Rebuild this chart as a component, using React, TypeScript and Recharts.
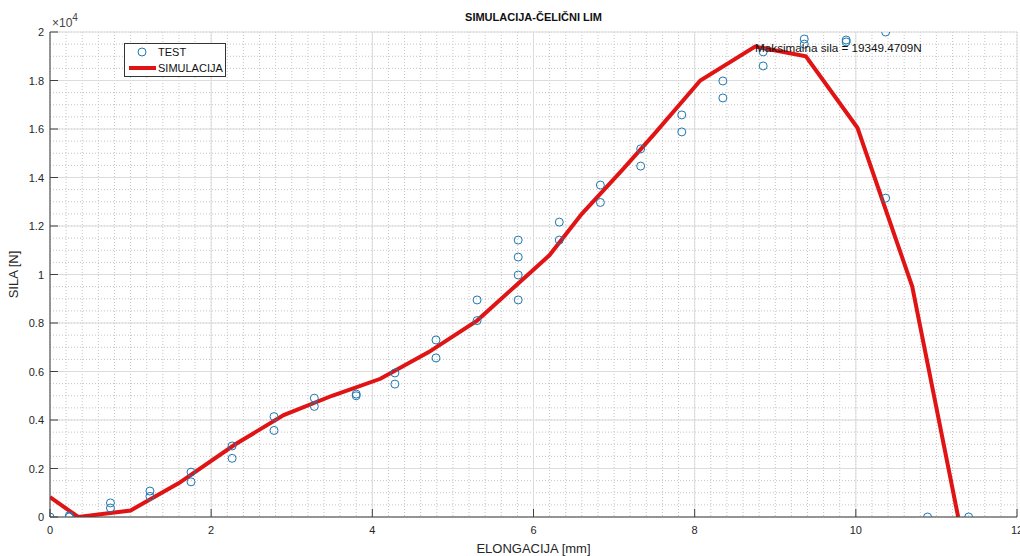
import React from 'react';
import { ComposedChart, Line, Scatter, XAxis, YAxis, CartesianGrid, Legend, ReferenceDot } from 'recharts';

const testX = [0, 0.24, 0.24, 0.75, 0.75, 1.24, 1.24, 1.75, 1.75, 2.26, 2.26, 2.78, 2.78, 3.28, 3.28, 3.8, 3.8, 4.28, 4.28, 4.79, 4.79, 5.3, 5.3, 5.81, 5.81, 5.81, 5.81, 6.32, 6.32, 6.83, 6.83, 7.33, 7.33, 7.84, 7.84, 8.35, 8.35, 8.85, 8.85, 9.36, 9.36, 9.88, 9.88, 10.37, 10.37, 10.89, 11.4];
const testY = [0, 0, 0.005, 0.058, 0.037, 0.107, 0.085, 0.185, 0.145, 0.293, 0.242, 0.414, 0.357, 0.49, 0.456, 0.507, 0.5, 0.594, 0.548, 0.73, 0.656, 0.895, 0.81, 1.142, 1.072, 0.998, 0.895, 1.216, 1.142, 1.369, 1.297, 1.518, 1.447, 1.658, 1.588, 1.798, 1.728, 1.918, 1.86, 1.971, 1.95, 1.967, 1.959, 2.0, 1.315, 0, 0];

const simX = [0, 0.35, 1.0, 1.6, 2.3, 2.9, 3.5, 4.1, 4.7, 5.3, 5.8, 6.2, 6.6, 7.1, 7.5, 8.07, 8.75, 9.38, 10.02, 10.7, 11.27];
const simY = [0.082, 0, 0.027, 0.14, 0.3, 0.42, 0.5, 0.57, 0.68, 0.81, 0.96, 1.08, 1.25, 1.43, 1.58, 1.8, 1.94, 1.9, 1.605, 0.95, 0];

const xTicks = [0, 2, 4, 6, 8, 10, 12];
const yTicks = [0, 0.2, 0.4, 0.6, 0.8, 1, 1.2, 1.4, 1.6, 1.8, 2];
const xMinorTicks = [0, 0.2, 0.4, 0.6, 0.8, 1, 1.2, 1.4, 1.6, 1.8, 2, 2.2, 2.4, 2.6, 2.8, 3, 3.2, 3.4, 3.6, 3.8, 4, 4.2, 4.4, 4.6, 4.8, 5, 5.2, 5.4, 5.6, 5.8, 6, 6.2, 6.4, 6.6, 6.8, 7, 7.2, 7.4, 7.6, 7.8, 8, 8.2, 8.4, 8.6, 8.8, 9, 9.2, 9.4, 9.6, 9.8, 10, 10.2, 10.4, 10.6, 10.8, 11, 11.2, 11.4, 11.6, 11.8, 12];
const yMinorTicks = [0, 0.05, 0.1, 0.15, 0.2, 0.25, 0.3, 0.35, 0.4, 0.45, 0.5, 0.55, 0.6, 0.65, 0.7, 0.75, 0.8, 0.85, 0.9, 0.95, 1, 1.05, 1.1, 1.15, 1.2, 1.25, 1.3, 1.35, 1.4, 1.45, 1.5, 1.55, 1.6, 1.65, 1.7, 1.75, 1.8, 1.85, 1.9, 1.95, 2];

const maxX = 8.75;
const maxY = 1.935;
const maxLabel = 'Maksimalna sila = 19349.4709N';

const testData = testX.map((x, i) => ({ x, y: testY[i] }));
const simData = simX.map((x, i) => ({ x, y: simY[i] }));

const FONT = '"Liberation Sans", Arial, sans-serif';
const AXIS = '#404040';
const TEXT = '#262626';
const BLUE = '#1f78b0';
const RED = '#e01414';

const fmt = (v: number) => String(Math.round(v * 10) / 10);

const YTick = (props: any) => {
  const { x, y, payload } = props;
  return (
    <g>
      <line x1={x + 6} x2={x + 14} y1={y} y2={y} stroke={AXIS} strokeWidth={1} />
      <text x={x} y={y} dy={4} textAnchor="end" fontSize={11} fill={TEXT} fontFamily={FONT}>{fmt(payload.value)}</text>
    </g>
  );
};

const XTick = (props: any) => {
  const { x, y, payload } = props;
  return (
    <g>
      <line x1={x} x2={x} y1={y - 6} y2={y - 14} stroke={AXIS} strokeWidth={1} />
      <text x={x} y={y} dy={11} textAnchor="middle" fontSize={11} fill={TEXT} fontFamily={FONT}>{fmt(payload.value)}</text>
    </g>
  );
};

const YLabel = (props: any) => {
  const { viewBox } = props;
  const cx = viewBox.x + 5;
  const cy = viewBox.y + viewBox.height / 2;
  return (
    <text x={cx} y={cy} transform={`rotate(-90, ${cx}, ${cy})`} textAnchor="middle" dominantBaseline="middle" fontSize={13} fill={TEXT} fontFamily={FONT}>SILA [N]</text>
  );
};

const Circle = (props: any) => {
  const { cx, cy } = props;
  if (cx == null || cy == null) return null;
  return <circle cx={cx} cy={cy} r={4} fill="none" stroke={BLUE} strokeWidth={1} />;
};

const LegendBox = () => (
  <div style={{ width: 100, height: 32, border: '1px solid #333', background: '#fff', position: 'relative', fontFamily: FONT, fontSize: 11, color: '#111' }}>
    <svg width={100} height={32} style={{ position: 'absolute', left: 0, top: 0 }}>
      <circle cx={17} cy={8} r={4} fill="none" stroke={BLUE} strokeWidth={1} />
      <text x={33} y={12} fontSize={11} fill="#111" fontFamily={FONT}>TEST</text>
      <line x1={4} x2={31} y1={24} y2={24} stroke={RED} strokeWidth={4} />
      <text x={33} y={28} fontSize={11} fill="#111" fontFamily={FONT}>SIMULACIJA</text>
    </svg>
  </div>
);

export default function App() {
  return (
    <div style={{ position: 'absolute', left: 0, top: 0, width: 1020, height: 556, background: '#fff', fontFamily: FONT }}>
      <div style={{ position: 'absolute', left: 0, top: 11, width: 1067, textAlign: 'center', fontWeight: 'bold', fontSize: 11, color: '#111' }}>SIMULACIJA-ČELIČNI LIM</div>
      <div style={{ position: 'absolute', left: 52, top: 13, fontSize: 12, color: '#444', whiteSpace: 'nowrap' }}>
        ×10<sup style={{ fontSize: 10, position: 'relative', top: -1 }}>4</sup>
      </div>
      <ComposedChart width={1020} height={556} margin={{ top: 32, right: 3, left: 10, bottom: 0 }} style={{ position: 'absolute', left: 0, top: 0 }}>
        <XAxis xAxisId="minor" type="number" dataKey="x" domain={[0, 12]} ticks={xMinorTicks} interval={0} hide allowDataOverflow />
        <YAxis yAxisId="minor" type="number" dataKey="y" domain={[0, 2]} ticks={yMinorTicks} interval={0} hide allowDataOverflow />
        <CartesianGrid xAxisId="minor" yAxisId="minor" stroke="#c4c4c4" strokeDasharray="1 2" strokeWidth={1} />
        <CartesianGrid stroke="#dcdcdc" strokeWidth={1} />
        <XAxis type="number" dataKey="x" domain={[0, 12]} ticks={xTicks} interval={0} height={39} tickSize={0} tickMargin={6} tickLine={false} stroke={AXIS} tick={<XTick />} allowDataOverflow
          label={{ value: 'ELONGACIJA [mm]', position: 'insideBottom', offset: 3, fontSize: 13, fill: TEXT, fontFamily: FONT }} />
        <YAxis type="number" dataKey="y" domain={[0, 2]} ticks={yTicks} interval={0} width={40} tickSize={0} tickMargin={6} tickLine={false} stroke={AXIS} tick={<YTick />} allowDataOverflow
          label={<YLabel />} />
        <Scatter name="TEST" data={testData} shape={<Circle />} isAnimationActive={false} />
        <Line name="SIMULACIJA" data={simData} dataKey="y" type="linear" stroke={RED} strokeWidth={4} dot={false} activeDot={false} isAnimationActive={false} />
        <ReferenceDot x={maxX} y={maxY} r={0} fill="none" stroke="none" ifOverflow="visible"
          label={{ value: maxLabel, position: 'right', offset: 0, fontSize: 11.7, fill: '#111', fontFamily: FONT }} />
        <Legend layout="horizontal" verticalAlign="middle" align="center" content={<LegendBox />} wrapperStyle={{ position: 'absolute', left: 124, top: 43, width: 102, height: 34 }} />
      </ComposedChart>
    </div>
  );
}
